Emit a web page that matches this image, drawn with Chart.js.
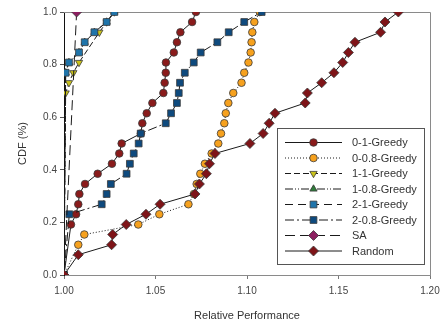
<!DOCTYPE html>
<html>
<head>
<meta charset="utf-8">
<script src="https://cdn.jsdelivr.net/npm/chart.js@4.4.1/dist/chart.umd.min.js"></script>
<style>
    html, body { margin: 0; padding: 0; background: #ffffff; }
    #wrap { width: 441px; height: 324px; }
</style>
</head>
<body>
<div id="wrap"><canvas id="canvas" width="441" height="324"></canvas></div>
<script>
// values
const seriesNames = ['0-1-Greedy', '0-0.8-Greedy', '1-1-Greedy', '1-0.8-Greedy', '2-1-Greedy', '2-0.8-Greedy', 'SA', 'Random'];

const greedy01X = [1.0, 1.0038, 1.0066, 1.0078, 1.0084, 1.0115, 1.0184, 1.0262, 1.0302, 1.0315, 1.042, 1.0428, 1.0452, 1.0483, 1.0543, 1.055, 1.0556, 1.0557, 1.060, 1.0617, 1.0636, 1.070, 1.0721];
const greedy01Y = [0, 0.192, 0.231, 0.269, 0.308, 0.346, 0.385, 0.423, 0.462, 0.5, 0.538, 0.577, 0.615, 0.654, 0.692, 0.731, 0.769, 0.808, 0.846, 0.885, 0.923, 0.962, 1.0];

const greedy008X = [1.0, 1.0078, 1.0111, 1.0406, 1.0521, 1.068, 1.071, 1.0725, 1.0745, 1.077, 1.0807, 1.0843, 1.0858, 1.0876, 1.0884, 1.0898, 1.0925, 1.097, 1.0985, 1.1008, 1.102, 1.1025, 1.1029, 1.104, 1.107];
const greedy008Y = [0, 0.115, 0.154, 0.192, 0.231, 0.269, 0.308, 0.346, 0.385, 0.423, 0.462, 0.5, 0.538, 0.577, 0.615, 0.654, 0.692, 0.731, 0.769, 0.808, 0.846, 0.885, 0.923, 0.962, 1.0];

const greedy11X = [1.0, 1.0009, 1.0027, 1.0051, 1.0082, 1.0193, 1.0233, 1.0275];
const greedy11Y = [0, 0.692, 0.731, 0.769, 0.808, 0.923, 0.962, 1.0];

// 1-0.8-Greedy is not visible in the picture: it sits under the 2-1-Greedy marks
const greedy108X = [1.0, 1.0009, 1.0027, 1.0082, 1.0113, 1.0166, 1.0233, 1.0275];
const greedy108Y = [0, 0.769, 0.808, 0.846, 0.885, 0.923, 0.962, 1.0];

const greedy21X = [1.0, 1.0009, 1.0027, 1.0082, 1.0113, 1.0166, 1.0233, 1.0275];
const greedy21Y = [0, 0.769, 0.808, 0.846, 0.885, 0.923, 0.962, 1.0];

const greedy208X = [1.0, 1.0029, 1.0206, 1.0233, 1.0256, 1.0342, 1.036, 1.0381, 1.0408, 1.0419, 1.0556, 1.0585, 1.0617, 1.0627, 1.0634, 1.066, 1.0709, 1.0747, 1.0838, 1.090, 1.0985, 1.108];
const greedy208Y = [0, 0.231, 0.269, 0.308, 0.346, 0.385, 0.423, 0.462, 0.5, 0.538, 0.577, 0.615, 0.654, 0.692, 0.731, 0.769, 0.808, 0.846, 0.885, 0.923, 0.962, 1.0];

const saX = [1.0, 1.0069];
const saY = [0, 1.0];

const randomX = [1.0, 1.0078, 1.026, 1.0266, 1.034, 1.0448, 1.0525, 1.0716, 1.074, 1.0778, 1.0795, 1.0825, 1.1016, 1.1088, 1.1121, 1.1153, 1.1318, 1.133, 1.1408, 1.1475, 1.1523, 1.1554, 1.159, 1.173, 1.1754, 1.1827];
const randomY = [0, 0.077, 0.115, 0.154, 0.192, 0.231, 0.269, 0.308, 0.346, 0.385, 0.423, 0.462, 0.5, 0.538, 0.577, 0.615, 0.654, 0.692, 0.731, 0.769, 0.808, 0.846, 0.885, 0.923, 0.962, 1.0];

const xTicks = [1.00, 1.05, 1.10, 1.15, 1.20];
const yTicks = [0.0, 0.2, 0.4, 0.6, 0.8, 1.0];

const FONT = '"Liberation Sans", Arial, sans-serif';

function pts(xs, ys) {
    return xs.map((x, i) => ({ x: x, y: ys[i] }));
}

const styles = [
    { xs: greedy01X, ys: greedy01Y, fill: '#8a1b1b', shape: 'circle', r: 3.8, dash: [] },
    { xs: greedy008X, ys: greedy008Y, fill: '#f6a11e', shape: 'circle', r: 3.8, dash: [1, 2] },
    { xs: greedy11X, ys: greedy11Y, fill: '#c9c21a', shape: 'triangle', rot: 180, r: 4.2, dash: [6, 3] },
    { xs: greedy108X, ys: greedy108Y, fill: '#2f7d3a', shape: 'triangle', r: 4.2, dash: [8, 2, 1, 2, 1, 2] },
    { xs: greedy21X, ys: greedy21Y, fill: '#1f74aa', shape: 'rect', r: 4.8, dash: [8, 5] },
    { xs: greedy208X, ys: greedy208Y, fill: '#0e4a7e', shape: 'rect', r: 4.8, dash: [9, 3, 2, 3] },
    { xs: saX, ys: saY, fill: '#8c2060', shape: 'rectRot', r: 5, dash: [10, 5] },
    { xs: randomX, ys: randomY, fill: '#7e1418', shape: 'rectRot', r: 5, dash: [] },
];

const datasets = styles.map((s, i) => ({
    label: seriesNames[i],
    data: pts(s.xs, s.ys),
    showLine: true,
    borderColor: '#1a1a1a',
    borderWidth: 1,
    borderDash: s.dash,
    pointStyle: s.shape,
    pointRotation: s.rot || 0,
    pointRadius: s.r,
    pointBackgroundColor: s.fill,
    pointBorderColor: '#3a3a3a',
    pointBorderWidth: 0.8,
    order: -i,
}));

const frame = {
    id: 'frame',
    beforeDatasetsDraw(chart) {
        const { ctx, chartArea: a } = chart;
        ctx.save();
        ctx.strokeStyle = '#8a8a8a';
        ctx.lineWidth = 1;
        ctx.beginPath();
        ctx.moveTo(a.left, a.top + 0.5);
        ctx.lineTo(a.right + 0.5, a.top + 0.5);
        ctx.lineTo(a.right + 0.5, a.bottom);
        ctx.stroke();
        ctx.restore();
    }
};

const legendBox = {
    id: 'legendBox',
    afterDraw(chart) {
        const ctx = chart.ctx;
        ctx.save();
        ctx.fillStyle = '#ffffff';
        ctx.fillRect(277.5, 128.5, 147, 136);
        ctx.strokeStyle = '#555555';
        ctx.lineWidth = 1;
        ctx.strokeRect(277.5, 128.5, 147, 136);
        ctx.font = '11px ' + FONT;
        ctx.textBaseline = 'middle';
        chart.data.datasets.forEach((ds, i) => {
            const y = 142.5 + i * 15.5;
            ctx.setLineDash(ds.borderDash);
            ctx.strokeStyle = ds.borderColor;
            ctx.lineWidth = 1;
            ctx.beginPath();
            ctx.moveTo(285, y);
            ctx.lineTo(342, y);
            ctx.stroke();
            ctx.setLineDash([]);
            ctx.fillStyle = ds.pointBackgroundColor;
            ctx.strokeStyle = ds.pointBorderColor;
            ctx.lineWidth = ds.pointBorderWidth;
            Chart.helpers.drawPoint(ctx, {
                pointStyle: ds.pointStyle,
                rotation: ds.pointRotation,
                radius: ds.pointRadius,
                borderWidth: ds.pointBorderWidth,
            }, 313.5, y);
            ctx.fillStyle = '#333333';
            ctx.fillText(ds.label, 352, y + 0.5);
        });
        ctx.restore();
    }
};

new Chart(document.getElementById('canvas').getContext('2d'), {
    type: 'scatter',
    data: { datasets: datasets },
    options: {
        responsive: false,
        animation: false,
        layout: { padding: { top: 12, right: 11, left: 0, bottom: 0 } },
        plugins: { legend: { display: false }, tooltip: { enabled: false } },
        scales: {
            x: {
                type: 'linear',
                min: 1.0,
                max: 1.2,
                afterFit: s => { s.height = 49; s.paddingRight = 0; s.paddingLeft = 0; },
                afterBuildTicks: s => { s.ticks = xTicks.map(v => ({ value: v })); },
                ticks: {
                    color: '#444444',
                    font: { family: FONT, size: 10 },
                    padding: 6,
                    callback: v => v.toFixed(2),
                },
                grid: { drawOnChartArea: false, drawTicks: true, tickLength: 4, color: '#777777' },
                border: { color: '#8a8a8a', width: 1 },
                title: {
                    display: true,
                    text: 'Relative Performance',
                    color: '#333333',
                    font: { family: FONT, size: 11 },
                    padding: { top: 4, bottom: 1 },
                },
            },
            y: {
                type: 'linear',
                min: 0,
                max: 1,
                afterFit: s => { s.width = 64; },
                afterBuildTicks: s => { s.ticks = yTicks.map(v => ({ value: v })); },
                ticks: {
                    color: '#444444',
                    font: { family: FONT, size: 10 },
                    padding: 3,
                    callback: v => v.toFixed(1),
                },
                grid: { drawOnChartArea: false, drawTicks: true, tickLength: 4, color: '#555555' },
                border: { color: '#111111', width: 1 },
                title: {
                    display: true,
                    text: 'CDF (%)',
                    color: '#333333',
                    font: { family: FONT, size: 11 },
                    padding: { top: 16 },
                },
            },
        },
    },
    plugins: [frame, legendBox],
});
</script>
</body>
</html>
